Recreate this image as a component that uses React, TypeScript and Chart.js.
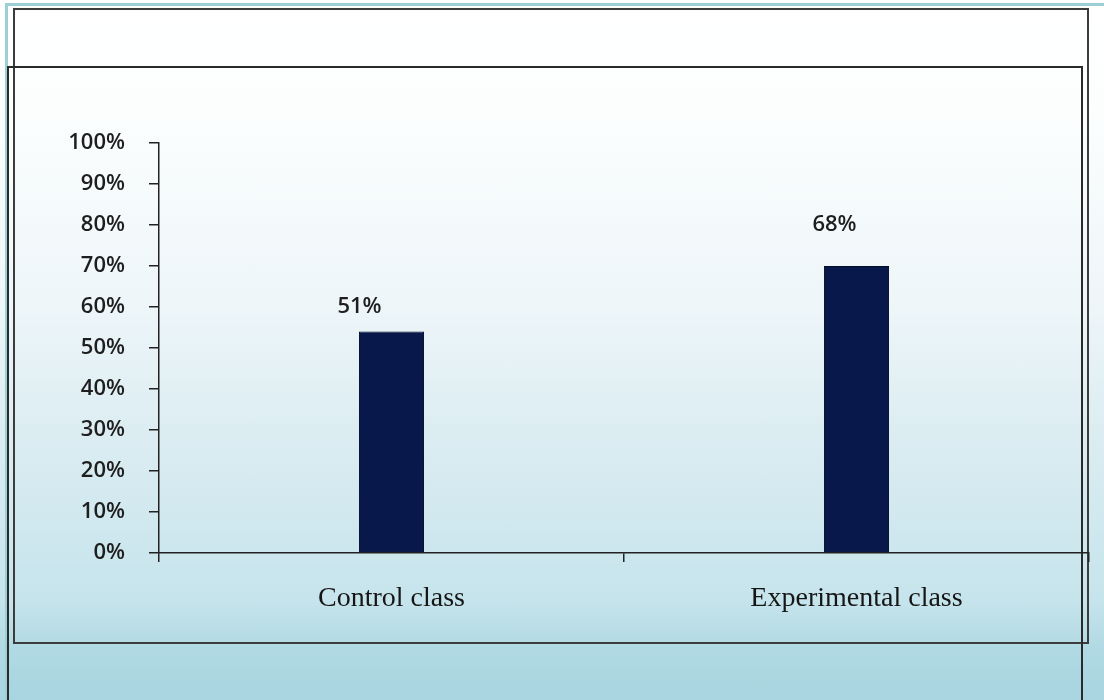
import React, { useEffect, useRef } from "react";
import { Chart, registerables } from "chart.js";

Chart.register(...registerables);

const categories = ["Control class", "Experimental class"];
const barValues = [54, 70];
const valueLabels = ["51%", "68%"];
const yMin = 0;
const yMax = 100;
const yStep = 10;

export default function App() {
  const ref = useRef<HTMLCanvasElement>(null);

  useEffect(() => {
    if (!ref.current) return;
    const labelDx = [-32, -22];
    const labelDy = [25, 41];
    const labelPlugin = {
      id: "valueLabels",
      afterDatasetsDraw(chart: any) {
        const ctx = chart.ctx;
        const meta = chart.getDatasetMeta(0);
        ctx.save();
        ctx.font = "600 22px 'Open Sans'";
        ctx.fillStyle = "#1e1e1e";
        ctx.textAlign = "center";
        ctx.textBaseline = "middle";
        meta.data.forEach((el: any, i: number) => {
          ctx.fillText(valueLabels[i], el.x + labelDx[i], el.y - labelDy[i]);
        });
        ctx.restore();
      },
    };

    const chart = new Chart(ref.current, {
      type: "bar",
      data: {
        labels: categories,
        datasets: [
          {
            data: barValues,
            backgroundColor: "#08184a",
            borderColor: "#030a24",
            borderWidth: 1,
            barPercentage: 0.14,
            categoryPercentage: 1,
          },
        ],
      },
      options: {
        animation: false,
        responsive: false,
        maintainAspectRatio: false,
        layout: { padding: { top: 143, right: 15, left: 0, bottom: 0 } },
        plugins: { legend: { display: false }, tooltip: { enabled: false } },
        scales: {
          x: {
            offset: true,
            grid: {
              display: true,
              drawOnChartArea: false,
              drawTicks: true,
              tickLength: 9,
              color: "#222",
              lineWidth: 1.5,
              offset: true,
            },
            border: { display: true, color: "#222", width: 1.5 },
            ticks: {
              font: { family: "'Liberation Serif', 'Times New Roman', serif", size: 28 },
              color: "#161616",
              padding: 20,
            },
            afterFit: (s: any) => {
              s.height = 147;
            },
          },
          y: {
            min: yMin,
            max: yMax,
            ticks: {
              stepSize: yStep,
              callback: (v: any) => v + "%",
              font: { family: "'Open Sans'", size: 22, weight: "600" },
              color: "#1e1e1e",
              padding: 24,
            },
            grid: { drawOnChartArea: false, tickLength: 10, color: "#222", lineWidth: 1.5 },
            border: { color: "#222", width: 1.5 },
            afterFit: (s: any) => {
              s.width = 159;
            },
          },
        },
      },
      plugins: [labelPlugin],
    });
    return () => chart.destroy();
  }, []);

  return (
    <div
      style={{
        position: "fixed",
        left: 0,
        top: 0,
        width: 1104,
        height: 700,
        overflow: "hidden",
        background:
          "linear-gradient(to bottom, #ffffff 0px, #fcfefe 110px, #eef6f9 300px, #dcedf2 430px, #c6e4ec 600px, #b0d9e3 650px, #a8d5e0 700px)",
      }}
    >
      <div
        style={{
          position: "absolute",
          left: 5,
          top: 3,
          width: 1099,
          height: 697,
          borderTop: "3px solid #9ccfd6",
          borderLeft: "3px solid #9ccfd6",
          boxSizing: "border-box",
        }}
      />
      <div
        style={{
          position: "absolute",
          left: 13,
          top: 8,
          width: 1076,
          height: 636,
          border: "2px solid #3c3c3c",
          boxSizing: "border-box",
        }}
      />
      <div
        style={{
          position: "absolute",
          left: 7,
          top: 66,
          width: 1076,
          height: 700,
          border: "2px solid #2a2a2a",
          boxSizing: "border-box",
        }}
      />
      <canvas
        ref={ref}
        width={1104}
        height={700}
        style={{ position: "absolute", left: 0, top: 0, width: 1104, height: 700 }}
      />
    </div>
  );
}
